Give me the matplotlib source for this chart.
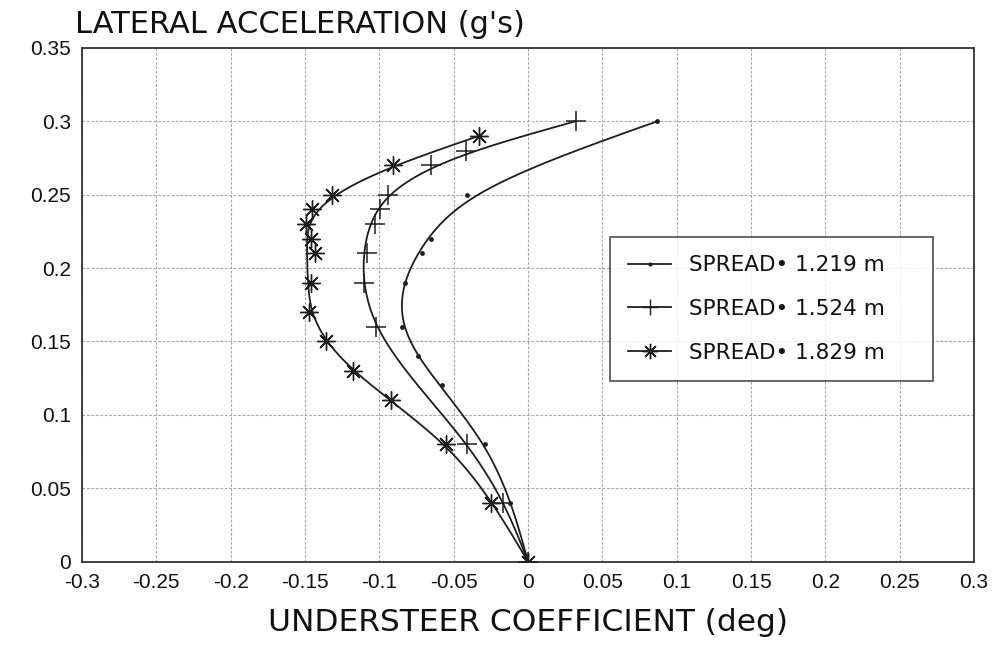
import numpy as np
import matplotlib
matplotlib.use("Agg")
import matplotlib.pyplot as plt

plt.rcParams['font.family'] = ["Liberation Sans", "DejaVu Sans"]

# data
acc_1219 = [0.0, 0.04, 0.08, 0.12, 0.14, 0.16, 0.19, 0.21, 0.22, 0.25, 0.30]
us_1219 = [0.0, -0.012, -0.029, -0.058, -0.074, -0.085, -0.083, -0.071, -0.065, -0.041, 0.087]

acc_1524 = [0.0, 0.04, 0.08, 0.16, 0.19, 0.21, 0.23, 0.24, 0.25, 0.27, 0.28, 0.30]
us_1524 = [0.0, -0.0166, -0.041, -0.102, -0.110, -0.1085, -0.103, -0.0996, -0.094, -0.0655, -0.042, 0.032]

acc_1829 = [0.0, 0.04, 0.08, 0.11, 0.13, 0.15, 0.17, 0.19, 0.21, 0.22, 0.23, 0.24, 0.25, 0.27, 0.29]
us_1829 = [0.0, -0.025, -0.055, -0.092, -0.118, -0.136, -0.147, -0.146, -0.143, -0.146, -0.149, -0.145, -0.132, -0.091, -0.033]

labels = ["SPREAD\u2022 1.219 m", "SPREAD\u2022 1.524 m", "SPREAD\u2022 1.829 m"]
xticks = [-0.3, -0.25, -0.2, -0.15, -0.1, -0.05, 0, 0.05, 0.1, 0.15, 0.2, 0.25, 0.3]
xticklabels = ["-0.3", "-0.25", "-0.2", "-0.15", "-0.1", "-0.05", "0", "0.05", "0.1", "0.15", "0.2", "0.25", "0.3"]
yticks = [0, 0.05, 0.1, 0.15, 0.2, 0.25, 0.3, 0.35]
yticklabels = ["0", "0.05", "0.1", "0.15", "0.2", "0.25", "0.3", "0.35"]


def smooth_curve(yv, xv, lam, n=500):
    """Penalised (smoothing-spline like) fit of x as a function of y."""
    yv = np.asarray(yv, float); xv = np.asarray(xv, float)
    yy = np.linspace(0, yv.max(), n)
    h = yy[1] - yy[0]
    B = np.zeros((len(yv), n))
    for i, yi in enumerate(yv):
        k = min(int(yi / h), n - 2)
        t = (yi - yy[k]) / h
        B[i, k] += 1 - t
        B[i, k + 1] += t
    w = np.ones(len(yv))
    w[0] = 50; w[-1] = 50
    W = np.diag(w)
    D = np.diff(np.eye(n), 2, axis=0) / h ** 2
    A = B.T @ W @ B + lam * h * (D.T @ D)
    xx = np.linalg.solve(A, B.T @ W @ xv)
    return xx, yy


fig = plt.figure(figsize=(10, 6.52), dpi=100)
ax = fig.add_axes([0.082, 0.1388, 0.892, 0.7876])

ink = "#1e1e1e"
series = [
    (acc_1219, us_1219, dict(marker='o', ms=3.5, mew=0), 4e-6),
    (acc_1524, us_1524, dict(marker='+', ms=14, mew=1.1), 3e-6),
    (acc_1829, us_1829, dict(marker=(8, 2, 0), ms=13, mew=1.0), 3e-6),
]
leg_marks = [dict(marker='o', ms=3, mew=0), dict(marker='+', ms=12, mew=1.0), dict(marker=(8, 2, 0), ms=11, mew=1.0)]
handles = []
for (yv, xv, mk, lam), lm in zip(series, leg_marks):
    xx, yy = smooth_curve(yv, xv, lam)
    ax.plot(xx, yy, color=ink, lw=1.3, zorder=3)
    ax.plot(xv, yv, ls='none', color=ink, zorder=4, **mk)
    h, = ax.plot([], [], color=ink, lw=1.3, **lm)
    handles.append(h)

ax.set_xlim(-0.3, 0.3)
ax.set_ylim(0, 0.35)
ax.set_xticks(xticks)
ax.set_xticklabels(xticklabels)
ax.set_yticks(yticks)
ax.set_yticklabels(yticklabels)
ax.tick_params(length=0, labelsize=15, colors="#111111", pad=8)
ax.grid(True, color="#a8a8a8", lw=0.8, ls=(0, (2.5, 1.5)))
for s in ax.spines.values():
    s.set_color("#333333"); s.set_linewidth(1.3)

fig.text(0.075, 0.963, "LATERAL ACCELERATION (g's)", fontsize=22, color="#111111",
         ha='left', va='center', family=["DejaVu Sans"])
ax.set_xlabel("UNDERSTEER COEFFICIENT (deg)", fontsize=22.5, color="#111111", labelpad=12,
              family=["DejaVu Sans"])

leg = ax.legend(handles, labels, loc='upper left', bbox_to_anchor=(0.592, 0.35, 0.362, 0.282),
                mode='expand', prop={'family': ["DejaVu Sans"], 'size': 15.5},
                frameon=True, fancybox=False, edgecolor="#333333", handlelength=2.0,
                borderpad=0.85, labelspacing=1.1, handletextpad=0.8, borderaxespad=0)
leg.get_frame().set_linewidth(1.3)
for t in leg.get_texts():
    t.set_color("#111111")

fig.savefig("out.png", dpi=100)
